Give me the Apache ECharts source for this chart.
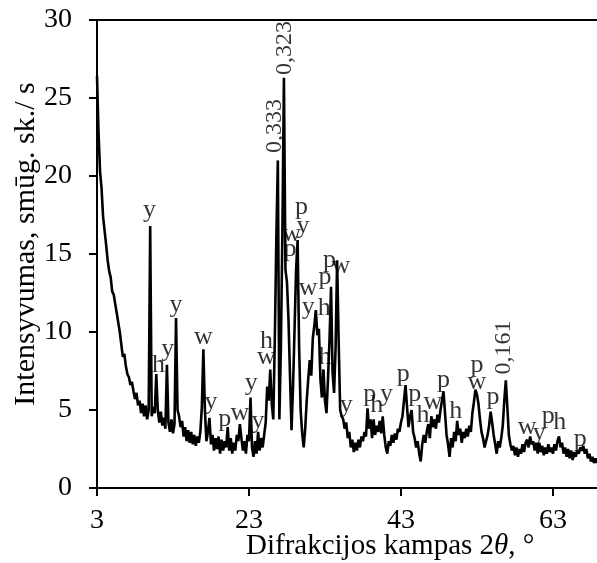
<!DOCTYPE html>
<html>
<head>
<meta charset="utf-8">
<script src="https://cdn.jsdelivr.net/npm/echarts@6/dist/echarts.min.js"></script>
<style>
html,body{margin:0;padding:0;background:#fff;}
#chart{width:597px;height:563px;}
</style>
</head>
<body>
<div id="chart"></div>
<script>
// 2θ grid of the scan: first angle and step, degrees
const thetaStart = 3.0
const thetaStep = 0.2
// intensity, smūg. sk./s, one value per step from 3.0 to 68.8
const intensity = [
  26.4,22.8,20.3,19.2,17.4,16.5,15.6,14.6,13.9,13.5,
  12.6,12.4,11.8,11.2,10.6,10.0,9.2,8.4,8.6,7.8,
  7.3,7.1,6.6,6.8,6.2,5.7,6.1,5.3,5.6,4.8,
  5.4,4.6,5.3,4.4,5.0,16.8,4.6,5.2,4.8,7.3,
  5.0,4.2,4.9,4.0,4.5,3.8,7.9,4.2,3.6,4.4,
  3.5,4.1,10.9,5.0,4.6,3.9,4.3,3.3,3.9,3.0,
  3.7,2.9,3.6,2.8,3.4,2.7,3.3,2.9,3.6,5.2,
  8.9,5.0,3.0,3.6,4.5,2.8,3.4,2.4,3.2,2.5,
  3.3,2.2,3.1,2.4,3.0,2.6,3.9,2.4,3.2,2.2,
  2.9,2.4,3.4,3.0,4.1,3.2,2.4,3.0,2.2,3.4,
  3.0,5.8,2.6,2.0,3.0,2.2,3.6,2.4,3.2,2.6,
  3.4,4.2,6.5,5.6,7.6,5.4,4.4,9.5,16.0,21.0,
  4.4,9.0,16.5,26.3,14.0,13.2,10.8,7.2,3.7,6.5,
  10.2,14.0,15.9,9.0,5.0,3.5,2.6,3.8,5.6,7.0,
  8.2,7.2,9.6,10.4,11.4,9.8,10.2,7.0,5.8,7.6,
  5.6,4.8,7.0,9.5,12.9,7.4,6.1,9.0,14.6,9.5,
  5.0,4.6,4.4,3.8,4.2,3.2,3.6,2.6,3.1,2.3,
  2.9,2.4,3.1,2.6,3.3,3.0,3.6,3.3,5.1,3.8,
  4.4,3.2,4.4,3.4,4.0,3.6,4.3,3.5,4.6,3.4,
  2.6,2.2,3.0,2.7,3.4,2.9,3.5,3.1,3.8,3.6,
  4.2,4.6,5.6,6.6,5.2,3.9,4.6,5.0,3.6,3.2,
  2.6,3.0,2.2,1.7,2.8,3.4,2.9,3.6,4.1,3.2,
  4.6,3.9,4.4,3.8,4.7,4.2,5.0,5.6,6.2,4.8,
  3.4,2.8,2.0,3.2,2.6,3.6,3.0,4.3,3.4,3.8,
  2.9,3.6,3.2,3.8,3.3,4.0,3.6,4.8,5.5,6.3,
  6.0,5.4,4.4,3.6,3.2,2.6,3.0,3.4,4.0,4.9,
  4.2,3.4,2.8,2.2,3.0,2.6,3.2,4.0,5.6,6.9,
  5.2,3.4,2.8,2.4,2.7,2.1,2.6,2.0,2.5,2.2,
  2.8,2.3,2.9,3.1,2.6,3.3,2.8,3.0,2.4,2.9,
  2.2,2.9,2.3,2.7,2.1,2.6,2.2,2.8,2.3,2.6,
  2.2,2.8,2.4,3.0,3.3,2.6,2.9,2.2,2.6,2.0,
  2.5,1.9,2.4,1.8,2.3,2.0,2.4,2.2,2.6,2.4,
  2.7,2.2,2.5,1.9,2.2,1.7,2.0,1.6,1.9,1.6
]
// phase letters over the peaks: [2θ, intensity, text]
const phaseLabels = [
  [9.9,17.8,'y'],[11.1,7.9,'h'],[12.3,8.9,'y'],[13.4,11.7,'y'],
  [17.0,9.7,'w'],[18.0,5.5,'y'],[19.8,4.4,'p'],[21.8,4.8,'w'],
  [23.3,6.7,'y'],[24.2,4.3,'y'],[25.3,9.4,'h'],[25.3,8.4,'w'],
  [28.4,15.3,'p'],[28.6,16.3,'w'],[30.1,16.8,'y'],[29.9,18.0,'p'],
  [30.8,12.8,'w'],[30.8,11.6,'y'],[33.0,13.5,'p'],[32.9,11.5,'h'],
  [33.6,14.6,'p'],[35.1,14.2,'w'],[33.0,8.4,'h'],[35.8,5.3,'y'],
  [38.9,6.0,'p'],[39.8,5.3,'h'],[41.1,6.0,'y'],[43.3,7.3,'p'],
  [44.8,6.0,'p'],[45.9,4.7,'h'],[47.2,5.5,'w'],[48.6,6.9,'p'],
  [50.2,4.9,'h'],[53.0,7.9,'p'],[53.0,6.8,'w'],[55.1,5.8,'p'],
  [59.6,3.9,'w'],[61.2,3.5,'y'],[62.4,4.6,'p'],[63.9,4.2,'h'],
  [66.6,3.1,'p']
]
// interplanar spacings, nm, written upright along the strongest peaks
const spacingLabels = [
  [26.4,23.2,'0,333'],[27.7,28.2,'0,323'],[56.5,9.0,'0,161']
]
const xTicks = [3,23,43,63]

let points = []
for (let i = 0; i < intensity.length; i++) {
  points.push([+(thetaStart + i * thetaStep).toFixed(1), intensity[i]])
}

const serif = '"Liberation Serif", "DejaVu Serif", serif'
let chart = echarts.init(document.getElementById('chart'))
let option = {
  animation: false,
  grid: {left: 97, right: 0, top: 20, bottom: 75},
  xAxis: [
    {
      type: 'value', min: 3, max: 68.8,
      axisLine: {lineStyle: {color: '#000', width: 2}},
      axisTick: {show: true, length: 8, lineStyle: {color: '#000', width: 2}, customValues: xTicks},
      axisLabel: {color: '#000', fontFamily: serif, fontSize: 28, margin: 19, customValues: xTicks},
      splitLine: {show: false}
    },
    {
      type: 'value', min: 3, max: 68.8, position: 'top',
      axisLine: {show: true, lineStyle: {color: '#000', width: 2}},
      axisTick: {show: false}, axisLabel: {show: false}, splitLine: {show: false}
    }
  ],
  yAxis: {
    type: 'value', min: 0, max: 30, interval: 5,
    axisLine: {show: true, lineStyle: {color: '#000', width: 2}},
    axisTick: {show: true, length: 8, lineStyle: {color: '#000', width: 2}},
    axisLabel: {color: '#000', fontFamily: serif, fontSize: 28, margin: 25},
    splitLine: {show: false}
  },
  graphic: [
    {
      type: 'text', x: 26, y: 244, rotation: Math.PI / 2,
      style: {text: 'Intensyvumas, smūg. sk./ s', font: '30px ' + serif, fill: '#000',
        align: 'center', verticalAlign: 'middle'}
    },
    {
      type: 'text', x: 246, y: 546,
      style: {text: 'Difrakcijos kampas 2{i|θ}, °', font: '29px ' + serif, fill: '#000',
        align: 'left', verticalAlign: 'middle',
        rich: {i: {fontStyle: 'italic', fontFamily: serif, fontSize: 29}}}
    }
  ],
  series: [
    {
      type: 'line', data: points, showSymbol: false, symbol: 'none',
      lineStyle: {color: '#000', width: 2.6}, z: 3
    },
    {
      type: 'scatter', data: phaseLabels, symbolSize: 0, z: 4,
      label: {show: true, position: 'inside', color: '#000', fontFamily: serif, fontSize: 26,
        formatter: p => p.data[2]}
    },
    {
      type: 'scatter', data: spacingLabels, symbolSize: 0, z: 4,
      label: {show: true, position: 'inside', rotate: 90, color: '#000', fontFamily: serif, fontSize: 24,
        formatter: p => p.data[2]}
    }
  ]
}
chart.setOption(option)
</script>
</body>
</html>
